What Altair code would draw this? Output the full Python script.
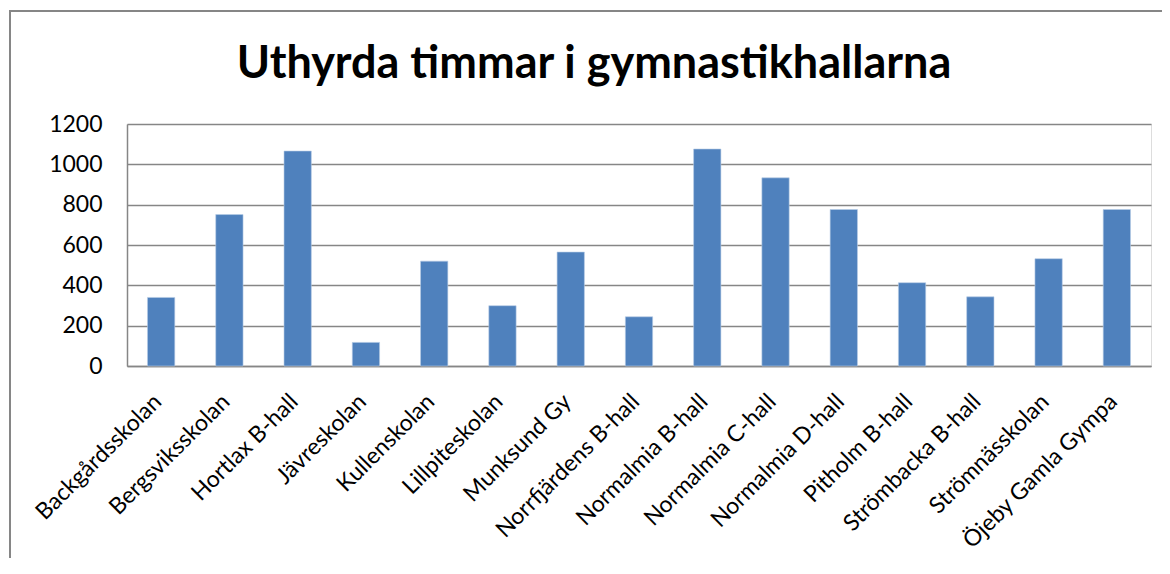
import altair as alt
import pandas as pd

categories = ["Backgårdsskolan", "Bergsviksskolan", "Hortlax B-hall", "Jävreskolan",
              "Kullenskolan", "Lillpiteskolan", "Munksund Gy", "Norrfjärdens B-hall",
              "Normalmia B-hall", "Normalmia C-hall", "Normalmia D-hall", "Pitholm B-hall",
              "Strömbacka B-hall", "Strömnässkolan", "Öjeby Gamla Gympa"]
hours = [340, 751, 1066, 117, 520, 299, 565, 244, 1076, 933, 776, 413, 343, 532, 776]
y_ticks = [0, 200, 400, 600, 800, 1000, 1200]

df = pd.DataFrame({"hall": categories, "timmar": hours})

FONT = "Lato"

bars = alt.Chart(df).mark_bar(color="#4F81BD", stroke="#B9CDE5", strokeWidth=0.6).encode(
    x=alt.X("hall:N", sort=categories, title=None,
            scale=alt.Scale(paddingInner=0.6, paddingOuter=0.3),
            axis=alt.Axis(labelAngle=-45, labelAlign="right", labelBaseline="top",
                          labelFontSize=23, labelColor="#000000", labelFont=FONT,
                          ticks=False, domainColor="#868686", domainWidth=1.5,
                          labelPadding=24, labelOffset=-11, labelOverlap=False, labelLimit=300)),
    y=alt.Y("timmar:Q", title=None,
            scale=alt.Scale(domain=[0, 1200], nice=False),
            axis=alt.Axis(values=y_ticks, format="d", labelFontSize=23, labelColor="#000000",
                          labelFont=FONT, ticks=False, labelPadding=25,
                          domainColor="#868686", domainWidth=1.5,
                          gridColor="#868686", gridWidth=1.5)),
)

frame = alt.Chart(pd.DataFrame({"f": [0]})).mark_rect(
    fill=None, stroke="#868686", strokeWidth=2
).encode(x=alt.value(-117), x2=alt.value(1050), y=alt.value(-113), y2=alt.value(500))

chart = alt.layer(bars, frame).properties(
    width=1024, height=242,
    title=alt.TitleParams("Uthyrda timmar i gymnastikhallarna", fontSize=45, font=FONT,
                          fontWeight="bold", color="#000000", anchor="middle",
                          dx=-45, offset=-77),
    padding={"left": 119, "top": 116, "right": 11, "bottom": 192},
    autosize=alt.AutoSizeParams(type="none"),
).configure_view(stroke=None).configure(background="#ffffff")

chart.save("out.html", embed_options={"renderer": "svg", "actions": False})
